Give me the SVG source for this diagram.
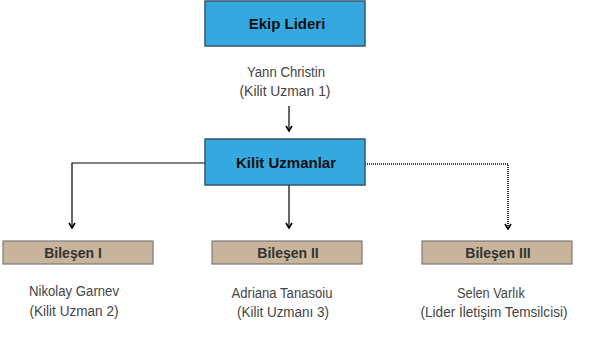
<svg xmlns="http://www.w3.org/2000/svg" width="600" height="338" viewBox="0 0 600 338">
  <defs>
    <!-- open chevron arrowhead, drawn along +x so orient="auto" points it down the line -->
    <marker id="arrow" viewBox="0 0 8 8" refX="7" refY="4" markerWidth="8" markerHeight="8" markerUnits="userSpaceOnUse" orient="auto">
      <path d="M2,1 L7,4 L2,7" fill="none" stroke="#000" stroke-width="1.6"/>
    </marker>
  </defs>
  <style>
    .lead { fill: #35a8df; stroke: #33586e; stroke-width: 1.5; }
    .comp { fill: #c8b49a; stroke: #7b7b7b; stroke-width: 1.2; }
    .title { font-family: "Liberation Sans", Arial, sans-serif; font-weight: bold; font-size: 15px; fill: #111; text-anchor: middle; }
    .ctitle { font-family: "Liberation Sans", Arial, sans-serif; font-weight: bold; font-size: 14px; fill: #333; text-anchor: middle; }
    .name { font-family: "Liberation Sans", Arial, sans-serif; font-size: 14px; fill: #444; text-anchor: middle; }
    .link { fill: none; stroke: #000; stroke-width: 1.2; }
    .dotted { fill: none; stroke: #000; stroke-width: 1.6; stroke-dasharray: 1 1; }
  </style>

  <rect width="600" height="338" fill="#fff"/>

  <!-- connectors -->
  <g id="connectors">
    <path class="link" d="M289,106 V131" marker-end="url(#arrow)"/>
    <path class="link" d="M205,163 H72 V228" marker-end="url(#arrow)"/>
    <path class="link" d="M289,185 V228" marker-end="url(#arrow)"/>
    <path class="dotted" d="M365,164 H508 V229" marker-end="url(#arrow)"/>
  </g>

  <!-- team leader -->
  <g id="ekip-lideri">
    <rect class="lead" x="205" y="1" width="160" height="45"/>
    <text class="title" x="287" y="29">Ekip Lideri</text>
    <text class="name" x="286" y="77" textLength="78" lengthAdjust="spacingAndGlyphs">Yann Christin</text>
    <text class="name" x="285" y="96" textLength="91" lengthAdjust="spacingAndGlyphs">(Kilit Uzman 1)</text>
  </g>

  <!-- key experts -->
  <g id="kilit-uzmanlar">
    <rect class="lead" x="205" y="139" width="160" height="46"/>
    <text class="title" x="286" y="168">Kilit Uzmanlar</text>
  </g>

  <!-- components -->
  <g id="bilesen-1">
    <rect class="comp" x="3" y="241" width="150" height="23"/>
    <text class="ctitle" x="73" y="257.5">Bileşen I</text>
    <text class="name" x="74" y="296" textLength="90" lengthAdjust="spacingAndGlyphs">Nikolay Garnev</text>
    <text class="name" x="74" y="316" textLength="89" lengthAdjust="spacingAndGlyphs">(Kilit Uzman 2)</text>
  </g>

  <g id="bilesen-2">
    <rect class="comp" x="212" y="241" width="150" height="23"/>
    <text class="ctitle" x="288" y="257.5">Bileşen II</text>
    <text class="name" x="282" y="298" textLength="101" lengthAdjust="spacingAndGlyphs">Adriana Tanasoiu</text>
    <text class="name" x="283" y="317" textLength="92" lengthAdjust="spacingAndGlyphs">(Kilit Uzmanı 3)</text>
  </g>

  <g id="bilesen-3">
    <rect class="comp" x="422" y="241" width="150" height="23"/>
    <text class="ctitle" x="498" y="257.5">Bileşen III</text>
    <text class="name" x="491" y="298" textLength="68" lengthAdjust="spacingAndGlyphs">Selen Varlık</text>
    <text class="name" x="494" y="317" textLength="147" lengthAdjust="spacingAndGlyphs">(Lider İletişim Temsilcisi)</text>
  </g>
</svg>
